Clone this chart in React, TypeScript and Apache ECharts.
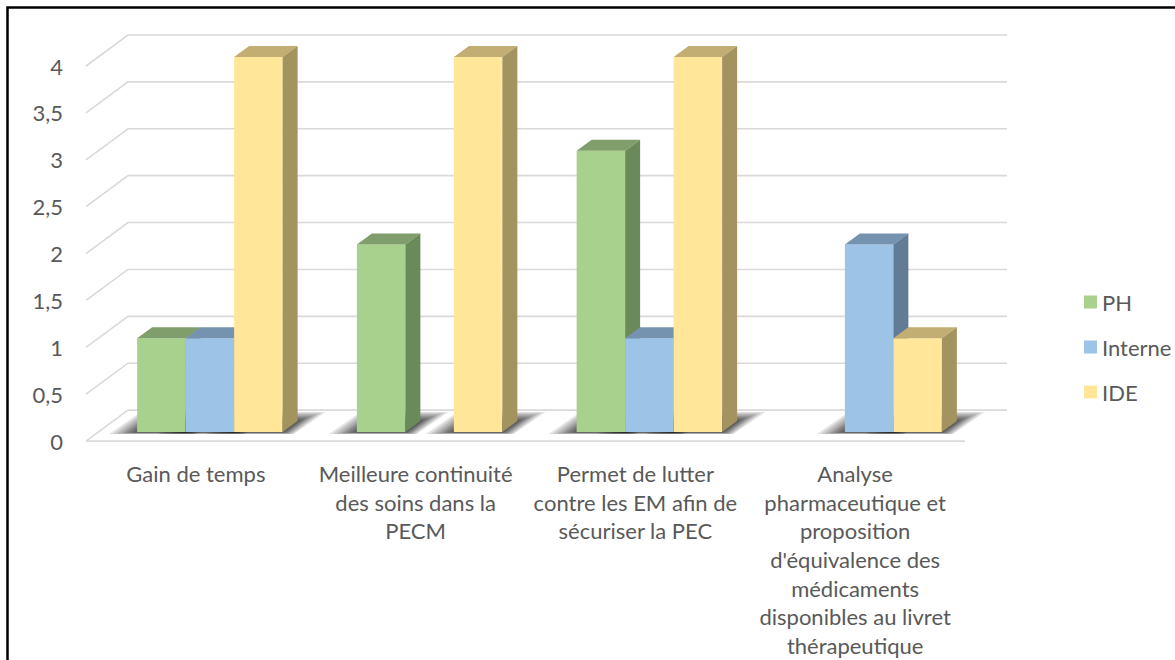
import React, { useEffect, useRef } from "react";
import * as echarts from "echarts";

const categories = [
  "Gain de temps",
  "Meilleure continuité\ndes soins dans la\nPECM",
  "Permet de lutter\ncontre les EM afin de\nsécuriser la PEC",
  "Analyse\npharmaceutique et\nproposition\nd'équivalence des\nmédicaments\ndisponibles au livret\nthérapeutique",
];
const seriesNames = ["PH", "Interne", "IDE"];
const phValues = [1, 2, 3, 0];
const interneValues = [1, 0, 1, 2];
const ideValues = [4, 4, 4, 1];
const yTicks = [0, 0.5, 1, 1.5, 2, 2.5, 3, 3.5, 4];
const yTickLabels = ["0", "0,5", "1", "1,5", "2", "2,5", "3", "3,5", "4"];

const allValues = [phValues, interneValues, ideValues];
const colors = [
  { front: "#A9D18E", top: "#7F9E6B", side: "#6B8A59" },
  { front: "#9DC3E6", top: "#7593AF", side: "#637C95" },
  { front: "#FFE699", top: "#C2AE73", side: "#A3935F" },
];

// 3D projection constants (pixels)
const BACK_DX = 42;
const BACK_DY = 31;
const BAR_DX = 14;
const BAR_DY = 9;
const DEPTH_DX = 15;
const DEPTH_DY = 11;
const BAR_FRAC = 48.5 / 219.75;
const FONT = "Lato, 'Noto Sans', sans-serif";
const TEXT_COLOR = "#595959";
const SHADOW_LAYERS = [28, 24, 20, 16, 13, 10, 7, 4, 2];

function barGeom(api: any, i: number, v: number, s: number) {
  const base = api.coord([i, 0]);
  const topP = api.coord([i, v]);
  const band = api.size([1, 0])[0];
  const w = band * BAR_FRAC;
  const cx = base[0] + (s - 1) * w + BAR_DX;
  return {
    xl: cx - w / 2,
    xr: cx + w / 2,
    w,
    yb: base[1] - BAR_DY,
    yt: topP[1] - BAR_DY,
  };
}

export default function App() {
  const ref = useRef<HTMLDivElement>(null);
  useEffect(() => {
    if (!ref.current) return;
    const chart = echarts.init(ref.current, undefined, { renderer: "svg" });

    const shadowData: number[][] = [];
    allValues.forEach((vals, s) =>
      vals.forEach((v, i) => {
        if (v > 0) shadowData.push([i, v, s]);
      })
    );

    const barSeries = seriesNames.map((name, s) => ({
      name,
      type: "custom",
      z: 3,
      itemStyle: { color: colors[s].front },
      data: allValues[s].map((v, i) => [i, v]),
      encode: { x: 0, y: 1 },
      renderItem: (params: any, api: any) => {
        const i = api.value(0);
        const v = api.value(1);
        if (!v) return null;
        const g = barGeom(api, i, v, s);
        const { xl, xr, yb, yt } = g;
        return {
          type: "group",
          children: [
            {
              type: "rect",
              shape: { x: xl, y: yt, width: xr - xl, height: yb - yt },
              style: { fill: colors[s].front },
            },
            {
              type: "polygon",
              shape: {
                points: [
                  [xl, yt],
                  [xr, yt],
                  [xr + DEPTH_DX, yt - DEPTH_DY],
                  [xl + DEPTH_DX, yt - DEPTH_DY],
                ],
              },
              style: { fill: colors[s].top },
            },
            {
              type: "polygon",
              shape: {
                points: [
                  [xr, yt],
                  [xr, yb],
                  [xr + DEPTH_DX, yb - DEPTH_DY],
                  [xr + DEPTH_DX, yt - DEPTH_DY],
                ],
              },
              style: { fill: colors[s].side },
            },
          ],
        };
      },
    }));

    const option: any = {
      animation: false,
      textStyle: { fontFamily: FONT },
      grid: { left: 86, top: 66, width: 879, bottom: 216 },
      legend: {
        data: seriesNames,
        orient: "vertical",
        left: 1079,
        top: 285,
        itemWidth: 13,
        itemHeight: 13,
        itemGap: 21,
        icon: "rect",
        selectedMode: false,
        textStyle: { fontSize: 22, lineHeight: 24, color: TEXT_COLOR, fontFamily: FONT },
      },
      xAxis: {
        type: "category",
        data: categories,
        axisLine: { show: false },
        axisTick: { show: false },
        splitLine: { show: false },
        axisLabel: {
          interval: 0,
          margin: 18,
          fontSize: 22,
          lineHeight: 28.7,
          color: TEXT_COLOR,
          fontFamily: FONT,
          align: "center",
        },
      },
      yAxis: {
        type: "value",
        min: 0,
        max: 4,
        interval: 0.5,
        axisLine: { show: false },
        axisTick: { show: false },
        splitLine: { show: false },
        axisLabel: {
          margin: 23,
          fontSize: 22,
          color: TEXT_COLOR,
          fontFamily: FONT,
          formatter: (v: number) => {
            const idx = yTicks.indexOf(v);
            return idx >= 0 ? yTickLabels[idx] : String(v);
          },
        },
      },
      graphic: [
        {
          type: "rect",
          shape: { x: 7.5, y: 7.5, width: 1400, height: 900 },
          style: { fill: "transparent", stroke: "#000", lineWidth: 2.5 },
          silent: true,
        },
      ],
      series: [
        {
          name: "grid3d",
          type: "custom",
          silent: true,
          z: 1,
          data: yTicks.map((v) => [0, v]),
          encode: { x: 0, y: 1 },
          renderItem: (params: any, api: any) => {
            const cs = params.coordSys;
            const v = api.value(1);
            const y = api.coord([0, v])[1];
            const x0 = cs.x;
            const x1 = cs.x + cs.width;
            const stroke = { stroke: "#D9D9D9", lineWidth: 1.6, fill: "none" };
            const children: any[] = [
              {
                type: "polyline",
                shape: {
                  points: [
                    [x0, y],
                    [x0 + BACK_DX, y - BACK_DY],
                    [x1 + BACK_DX, y - BACK_DY],
                  ],
                },
                style: stroke,
              },
            ];
            if (v === 0) {
              children.push({
                type: "line",
                shape: { x1: x0, y1: y, x2: x1, y2: y },
                style: stroke,
              });
            }
            return { type: "group", children };
          },
        },
        {
          name: "shadow",
          type: "custom",
          silent: true,
          z: 2,
          data: shadowData,
          encode: { x: 0, y: 1 },
          renderItem: (params: any, api: any) => {
            const i = api.value(0);
            const v = api.value(1);
            const s = api.value(2);
            const { xl, xr, yb } = barGeom(api, i, v, s);
            const children = SHADOW_LAYERS.map((e) => {
              const up = Math.min(e * 0.35, 9);
              const down = Math.min(e * 0.08, 2);
              return {
                type: "polygon",
                shape: {
                  points: [
                    [xl - e, yb + down],
                    [xr + e * 0.4, yb + down],
                    [xr + DEPTH_DX + e, yb - DEPTH_DY - up],
                    [xl + DEPTH_DX - e * 0.4, yb - DEPTH_DY - up],
                  ],
                },
                style: { fill: "rgba(0,0,0,0.11)" },
              };
            });
            return { type: "group", children };
          },
        },
        ...barSeries,
      ],
    };
    chart.setOption(option);
    return () => chart.dispose();
  }, []);

  return (
    <div
      ref={ref}
      style={{ position: "absolute", left: 0, top: 0, width: 1175, height: 660 }}
    />
  );
}
